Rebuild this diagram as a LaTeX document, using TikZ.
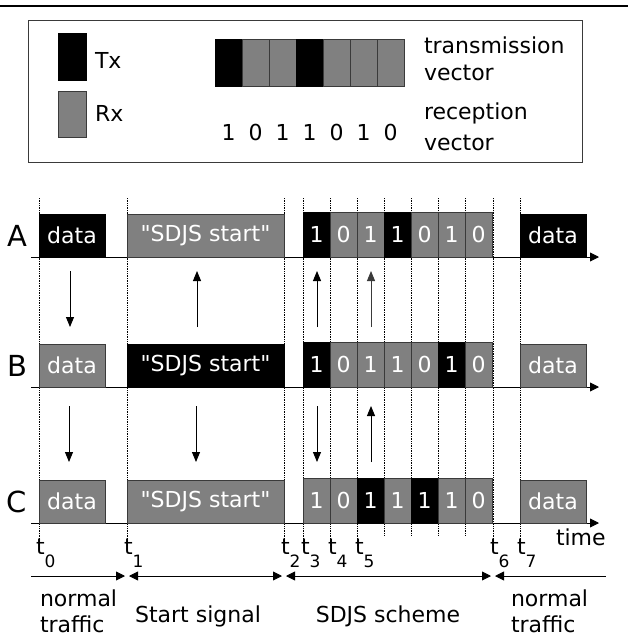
\documentclass[tikz,border=0pt]{standalone}
\usepackage{fontspec}
\setmainfont{DejaVu Sans}[Ligatures=TeXOff]
\usetikzlibrary{arrows.meta}
\definecolor{rxgray}{HTML}{808080}
\definecolor{edge}{HTML}{3A3A3A}
\newcommand{\mainfont}{\fontsize{22}{26}\selectfont}
\newcommand{\rowfont}{\fontsize{29}{32}\selectfont}
\newcommand{\subfont}{\fontsize{17}{19}\selectfont}
\tikzset{phasetip/.tip={Triangle[length=9pt,width=9pt]}}
\begin{document}
\begin{tikzpicture}[x=1pt,y=-1pt,
  every node/.style={inner sep=0pt,outer sep=0pt,font=\mainfont},
  txbox/.style={draw=black,fill=black,text=white,line width=0.6pt},
  rxbox/.style={draw=edge,fill=rxgray,text=white,line width=0.6pt},
  databox/.style={minimum width=66,minimum height=43},
  startbox/.style={minimum width=157,minimum height=43},
  cellbox/.style={minimum width=27,minimum height=45},
  vecbox/.style={minimum width=27,minimum height=47},
  tick/.style={densely dotted,line width=0.7pt},
  axis/.style={line width=0.9pt,-{Triangle[length=9pt,width=9pt]}},
  msg/.style={line width=0.9pt,-{Triangle[length=10pt,width=8pt]}},
  span/.style={line width=0.9pt},
  rowlabel/.style={font=\rowfont},
  tlabel/.style={anchor=base west}]
\useasboundingbox (0,0) rectangle (628,638);

% rule across the top
\draw[line width=1.4pt] (0,6) -- (628,6);

% legend
\node[draw=edge,line width=0.8pt,minimum width=554,minimum height=142] (legend) at (305,91) {};
\node[txbox,minimum width=28,minimum height=47] (ltx) at (72,56.5) {};
\node[rxbox,minimum width=28,minimum height=46] (lrx) at (72,114) {};
\node[anchor=west] (ltxt) at (95,60) {Tx};
\node[anchor=west] (lrxt) at (95,113) {Rx};
\foreach \i/\s/\d in {0/txbox/1,1/rxbox/0,2/rxbox/1,3/txbox/1,4/rxbox/0,5/rxbox/1,6/rxbox/0}{
  \node[\s,vecbox] (v\i) at ({228.5+27*\i},63) {};
  \node (n\i) at ({228.5+27*\i},132) {\d};
}
\node[anchor=west] (tv1) at (424,45) {transmission};
\node[anchor=west] (tv2) at (424,73) {vector};
\node[anchor=west] (rv1) at (424,113) {reception};
\node[anchor=west] (rv2) at (424,143) {vector};

% dotted time marks
\foreach \x in {39,127,284,303,330,357,493,520}
  \draw[tick] (\x,198) -- (\x,546);
\foreach \x in {384,411,438,465}
  \draw[tick] (\x,198) -- (\x,536);

% time axes
\coordinate (A0) at (31,257); \coordinate (A1) at (599,257);
\coordinate (B0) at (31,387); \coordinate (B1) at (599,387);
\coordinate (C0) at (31,523); \coordinate (C1) at (599,523);
\draw[axis] (A0) -- (A1);
\draw[axis] (B0) -- (B1);
\draw[axis] (C0) -- (C1);

\node[rowlabel] (labA) at (17,236) {A};
\node[rowlabel] (labB) at (17,366) {B};
\node[rowlabel] (labC) at (17,502) {C};

% row A
\node[txbox,databox] (Ad1) at (72,235.5) {data};
\node[rxbox,startbox] (As) at (205.5,235.5) {"SDJS start"};
\foreach \i/\s/\d in {0/txbox/1,1/rxbox/0,2/rxbox/1,3/txbox/1,4/rxbox/0,5/rxbox/1,6/rxbox/0}
  \node[\s,cellbox] (Ac\i) at ({316.5+27*\i},234.5) {\d};
\node[txbox,databox] (Ad2) at (553,235.5) {data};

% row B
\node[rxbox,databox] (Bd1) at (72,365.5) {data};
\node[txbox,startbox] (Bs) at (205.5,365.5) {"SDJS start"};
\foreach \i/\s/\d in {0/txbox/1,1/rxbox/0,2/rxbox/1,3/rxbox/1,4/rxbox/0,5/txbox/1,6/rxbox/0}
  \node[\s,cellbox] (Bc\i) at ({316.5+27*\i},364.5) {\d};
\node[rxbox,databox] (Bd2) at (553,365.5) {data};

% row C
\node[rxbox,databox] (Cd1) at (72,501.5) {data};
\node[rxbox,startbox] (Cs) at (205.5,501.5) {"SDJS start"};
\foreach \i/\s/\d in {0/rxbox/1,1/rxbox/0,2/txbox/1,3/rxbox/1,4/txbox/1,5/rxbox/1,6/rxbox/0}
  \node[\s,cellbox] (Cc\i) at ({316.5+27*\i},500.5) {\d};
\node[rxbox,databox] (Cd2) at (553,501.5) {data};

% messages between stations
\coordinate (m1a) at (70,271); \coordinate (m1b) at (70,327);
\coordinate (m2a) at (197,327); \coordinate (m2b) at (197,271);
\coordinate (m3a) at (317,327); \coordinate (m3b) at (317,271);
\coordinate (m4a) at (371,327); \coordinate (m4b) at (371,271);
\coordinate (m5a) at (69,406); \coordinate (m5b) at (69,462);
\coordinate (m6a) at (196,406); \coordinate (m6b) at (196,462);
\coordinate (m7a) at (317,406); \coordinate (m7b) at (317,462);
\coordinate (m8a) at (371,462); \coordinate (m8b) at (371,406);
\draw[msg] (m1a) -- (m1b);
\draw[msg] (m2a) -- (m2b);
\draw[msg] (m3a) -- (m3b);
\draw[msg,draw=edge] (m4a) -- (m4b);
\draw[msg] (m5a) -- (m5b);
\draw[msg] (m6a) -- (m6b);
\draw[msg] (m7a) -- (m7b);
\draw[msg] (m8a) -- (m8b);

\node[anchor=west] (time) at (556,537) {time};

% instants
\foreach \x/\n in {36/0,124/1,281/2,301/3,328/4,355/5,490/6,517/7}
  \node[tlabel] (t\n) at (\x,554) {t\raisebox{-13pt}{\subfont\n}};

% phases
\coordinate (p0) at (31,576);
\coordinate (p1) at (125,576); \coordinate (p1r) at (129,576);
\coordinate (p2) at (282,576); \coordinate (p2r) at (286,576);
\coordinate (p3) at (491,576); \coordinate (p3r) at (495,576);
\coordinate (p4) at (606,576);
\draw[span,-phasetip] (p0) -- (p1);
\draw[span,phasetip-phasetip] (p1r) -- (p2);
\draw[span,phasetip-phasetip] (p2r) -- (p3);
\draw[span,phasetip-] (p3r) -- (p4);

\node[anchor=west] (ph1a) at (40,598) {normal};
\node[anchor=west] (ph1b) at (40,624) {traffic};
\node (ph2) at (198,616) {Start signal};
\node (ph3) at (388,616) {SDJS scheme};
\node[anchor=west] (ph4a) at (511,598) {normal};
\node[anchor=west] (ph4b) at (511,624) {traffic};
\end{tikzpicture}
\end{document}
